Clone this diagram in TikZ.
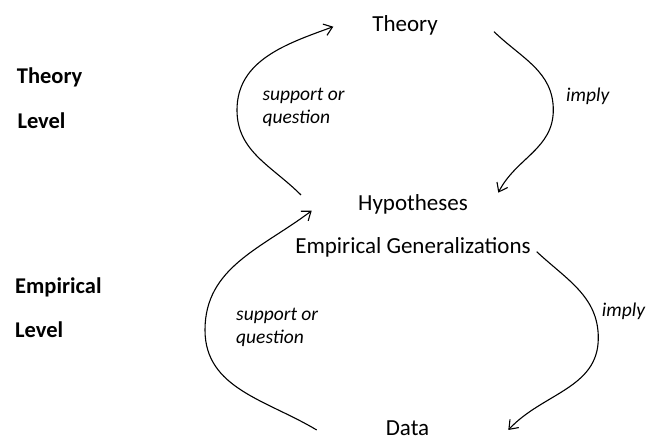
\documentclass[tikz,border=0pt]{standalone}
\usepackage{fontspec}
\setmainfont{Carlito}
\usetikzlibrary{arrows.meta}

\begin{document}
\begin{tikzpicture}[x=1pt,y=1pt,
    lvl/.style={anchor=base west,inner sep=0,font=\fontsize{22.5}{27}\selectfont\bfseries},
    stage/.style={anchor=base,inner sep=0,font=\fontsize{23}{28}\selectfont},
    verb/.style={anchor=base west,inner sep=0,align=left,font=\fontsize{19.5}{23.5}\selectfont\itshape},
    arr/.style={line width=1.1pt,-{Straight Barb[length=8pt,width=12pt]}}]
    \useasboundingbox (0,0) rectangle (657,438);
    \node[stage] (T) at (405,406.3) {Theory};
    \node[stage] (H) at (413,227.5) {Hypotheses};
    \node[stage] (G) at (413,184.7) {Empirical Generalizations};
    \node[stage] (D) at (407.5,2.3) {Data};
    \node[lvl] (lt1) at (16.7,354) {Theory};
    \node[lvl] (lt2) at (17.3,309.7) {Level};
    \node[lvl] (le1) at (15,144.7) {Empirical};
    \node[lvl] (le2) at (15,100.7) {Level};
    \coordinate (tl) at (237,328);
    \coordinate (tr) at (553.3,328);
    \coordinate (bl) at (205,108);
    \coordinate (br) at (598.3,100);
    \draw[arr] ([shift={(-112,15.5)}]H.base) to[out=135,in=-90] (tl) to[out=90,in=200] ([shift={(-71.7,5)}]T.base);
    \draw[arr] ([shift={(89,0)}]T.base) to[out=-44,in=90] (tr) to[out=-90,in=63] ([shift={(85.3,17.8)}]H.base);
    \draw[arr] ([shift={(-90.8,5.7)}]D.base) to[out=149,in=-90] (bl) to[out=90,in=217] ([shift={(-101.3,-0.2)}]H.base);
    \draw[arr] ([shift={(123.7,1.6)}]G.base) to[out=-43,in=90] (br) to[out=-90,in=47] ([shift={(100.8,5.7)}]D.base);
    % base of a two-line label is its last line
    \node[verb] (sq1) at (262.3,314) {support or\\question};
    \node[verb] (im1) at (566,336.3) {imply};
    \node[verb] (sq2) at (236,94) {support or\\question};
    \node[verb] (im2) at (601.7,121.3) {imply};
\end{tikzpicture}
\end{document}
